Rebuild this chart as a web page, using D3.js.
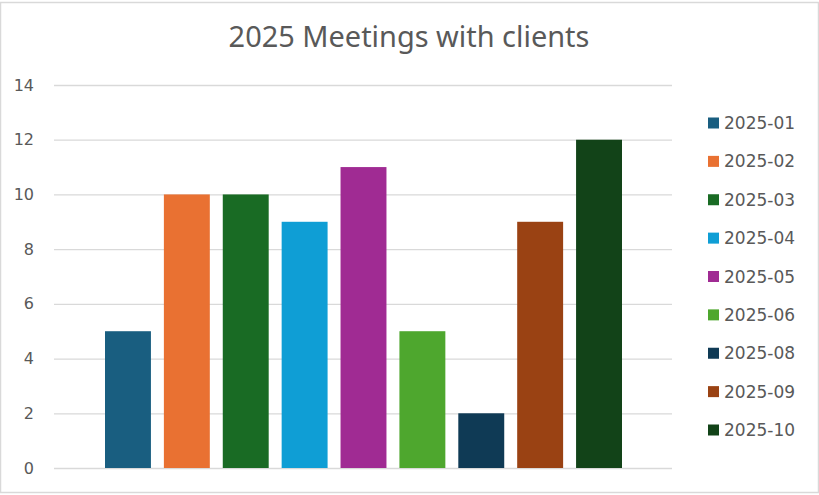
<!DOCTYPE html>
<html><head><meta charset="utf-8">
<script src="https://cdn.jsdelivr.net/npm/d3@7"></script>
<style>html,body{margin:0;padding:0;background:#fff;}svg{display:block;}</style>
</head><body>
<svg id="chart" width="819" height="495"></svg>
<script>
const title = "2025 Meetings with clients";
const series = ["2025-01","2025-02","2025-03","2025-04","2025-05","2025-06","2025-08","2025-09","2025-10"];
const values = [5,10,10,9,11,5,2,9,12];
const colors = ["#195e80","#e97132","#196b24","#0f9ed5","#a02b93","#4ea72e","#0f3a55","#9a4213","#124318"];
const yTicks = [0,2,4,6,8,10,12,14];

const svg = d3.select("#chart");
svg.append("rect").attr("x",0.5).attr("y",2.5).attr("width",818).attr("height",490)
  .attr("fill","#fff").attr("stroke","#d9d9d9").attr("stroke-width",1.5);

const y = d3.scaleLinear().domain([0,14]).range([468,85]);
const x = d3.scaleBand().domain(series).range([105,622]).paddingInner(0.22).paddingOuter(0);

const yAxis = d3.axisLeft(y).tickValues(yTicks).tickSize(-(672-54)).tickPadding(20);
const gy = svg.append("g").attr("transform","translate(54,0)").call(yAxis);
gy.select(".domain").remove();
gy.selectAll(".tick line").attr("stroke","#d9d9d9").attr("stroke-width",1.3);
gy.selectAll(".tick text").attr("fill","#595959").attr("font-family","DejaVu Sans, sans-serif")
  .attr("font-size",16).attr("x",-20);

svg.append("g").selectAll("rect").data(series).join("rect")
  .attr("x",d=>x(d)).attr("width",x.bandwidth())
  .attr("y",(d,i)=>y(values[i])).attr("height",(d,i)=>y(0)-y(values[i]))
  .attr("fill",(d,i)=>colors[i]);

const t = svg.append("text").attr("x",409).attr("y",47).attr("text-anchor","middle")
  .attr("font-family","Noto Sans, sans-serif")
  .attr("font-size",27).attr("fill","#595959").text(title);
const tw = t.node().getComputedTextLength();
if (tw > 0) t.attr("font-size", Math.min(30, Math.max(24, 27*361/tw)));

const legendY = d3.scalePoint().domain(series).range([123,430]);
const lg = svg.append("g").selectAll("g").data(series).join("g")
  .attr("transform",d=>`translate(708,${legendY(d)})`);
lg.append("rect").attr("x",0).attr("y",-5.5).attr("width",11).attr("height",11).attr("fill",(d,i)=>colors[i]);
lg.append("text").attr("x",16).attr("y",6).attr("font-family","DejaVu Sans, sans-serif")
  .attr("font-size",17).attr("fill","#595959").text(d=>d);
</script>
</body></html>
